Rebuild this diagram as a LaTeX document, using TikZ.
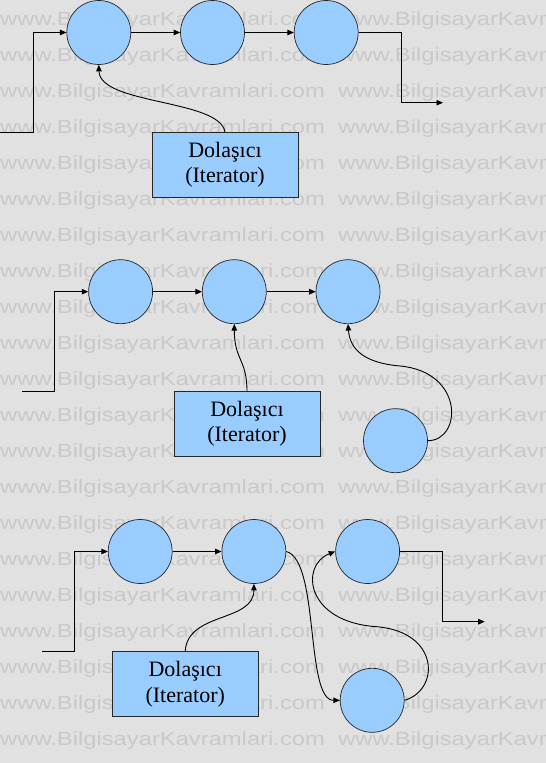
\documentclass[tikz,border=0pt]{standalone}
\usepackage{fontspec}
\newfontfamily\kutufont{Liberation Serif}
\newfontfamily\filigranfont{Liberation Sans}
\usepackage{xcolor}
\definecolor{acikmavi}{HTML}{99CCFF}
\definecolor{zemin}{HTML}{E1E1E1}
\definecolor{filigran}{HTML}{C9C9C9}
\def\dugumrenk{acikmavi}
\usepackage{tikz}
\usetikzlibrary{arrows.meta,calc,positioning}

\begin{document}
\begin{tikzpicture}[x=1pt,y=-1pt,declare function={%
			yaricap=32;
			aralik=113.7;
			}
			]%
			\tikzset{
				dugum/.style={circle,draw=black!85,line width=0.7pt,fill=\dugumrenk,minimum size=2*yaricap,inner sep=0pt},
				kutu/.style={rectangle,draw=black!85,line width=0.8pt,fill=\dugumrenk,minimum width=146pt,minimum height=65pt,inner sep=0pt,align=center,font={\kutufont\fontsize{22}{25}\selectfont}},
				ok/.style={-{Triangle[length=6.5pt,width=5.5pt]},line width=0.9pt,draw=black},
				filigranyazi/.style={anchor=base west,inner sep=0pt,xscale=1.25,text=filigran,font={\filigranfont\fontsize{19}{19}\selectfont}}
			}
		\useasboundingbox (0,0) rectangle (546,763);
		%%%Zemin ve filigran
		\fill[zemin] (0,0) rectangle (546,763);
		\begin{scope}
			\clip (0,0) rectangle (546,763);
			\foreach \i in {0,...,20}{%
				\foreach \x in {0,338}{%
					\path (\x,25+36*\i) node[filigranyazi] {www.BilgisayarKavramlari.com};
				}
			}
		\end{scope}
		%%%Birinci liste
		\path (98.8,32.5) node[dugum] (a1) {};
		\path (a1) ++(aralik,0) node[dugum] (a2) {};
		\path (a2) ++(aralik,0) node[dugum] (a3) {};
		\path (225,165) node[kutu] (i1) {Dolaşıcı\\(Iterator)};
		\coordinate (g1) at (0,132.7);
		\coordinate (s1) at (443,102.7);
		\draw[ok] (g1) -| ([xshift=-33.5pt]a1.west) -- (a1.west);
		\draw[ok] (a1) -- (a2);
		\draw[ok] (a2) -- (a3);
		\draw[ok] (a3.east) -- ++(42.5,0) |- (s1);
		\draw[ok] (i1.north) .. controls +(-5,-33) and +(1,40) .. (a1.south);
		%%%Ikinci liste
		\path (120.6,291.7) node[dugum] (b1) {};
		\path (b1) ++(aralik,0) node[dugum] (b2) {};
		\path (b2) ++(aralik,0) node[dugum] (b3) {};
		\path (395.5,440.7) node[dugum] (b4) {};
		\path (247,424.2) node[kutu] (i2) {Dolaşıcı\\(Iterator)};
		\coordinate (g2) at (22,391.7);
		\coordinate (m2) at (400,366);
		\draw[ok] (g2) -| ([xshift=-33.5pt]b1.west) -- (b1.west);
		\draw[ok] (b1) -- (b2);
		\draw[ok] (b2) -- (b3);
		\draw[ok] (i2.north) .. controls +(0,-32) and +(0,36) .. (b2.south);
		\draw[ok] (b4.east) .. controls +(34,0) and +(65,6) .. (m2) .. controls +(-35,-3) and +(2,26) .. (b3.south);
		%%%Ucuncu liste
		\path (140.2,551.5) node[dugum] (c1) {};
		\path (c1) ++(aralik,0) node[dugum] (c2) {};
		\path (c2) ++(aralik,0) node[dugum] (c3) {};
		\path (372.2,700.3) node[dugum] (c4) {};
		\path (185.2,684.2) node[kutu] (i3) {Dolaşıcı\\(Iterator)};
		\coordinate (g3) at (41.8,651.7);
		\coordinate (s3) at (484.7,621.7);
		\coordinate (m3) at (376.7,626.7);
		\draw[ok] (g3) -| ([xshift=-33.5pt]c1.west) -- (c1.west);
		\draw[ok] (c1) -- (c2);
		\draw[ok] (c3.east) -- ++(42.5,0) |- (s3);
		\draw[ok] (i3.north) .. controls +(2.4,-39.7) and +(0,38.7) .. (c2.south);
		\draw[ok] (c2.east) .. controls +(33.4,8.5) and +(-34.8,0) .. (c4.west);
		\draw[ok] (c4.east) .. controls +(35.4,-10.3) and +(63.3,5.3) .. (m3) .. controls +(-71.7,-4.7) and +(-35.3,13.5) .. (c3.west);
	\end{tikzpicture}
\end{document}
